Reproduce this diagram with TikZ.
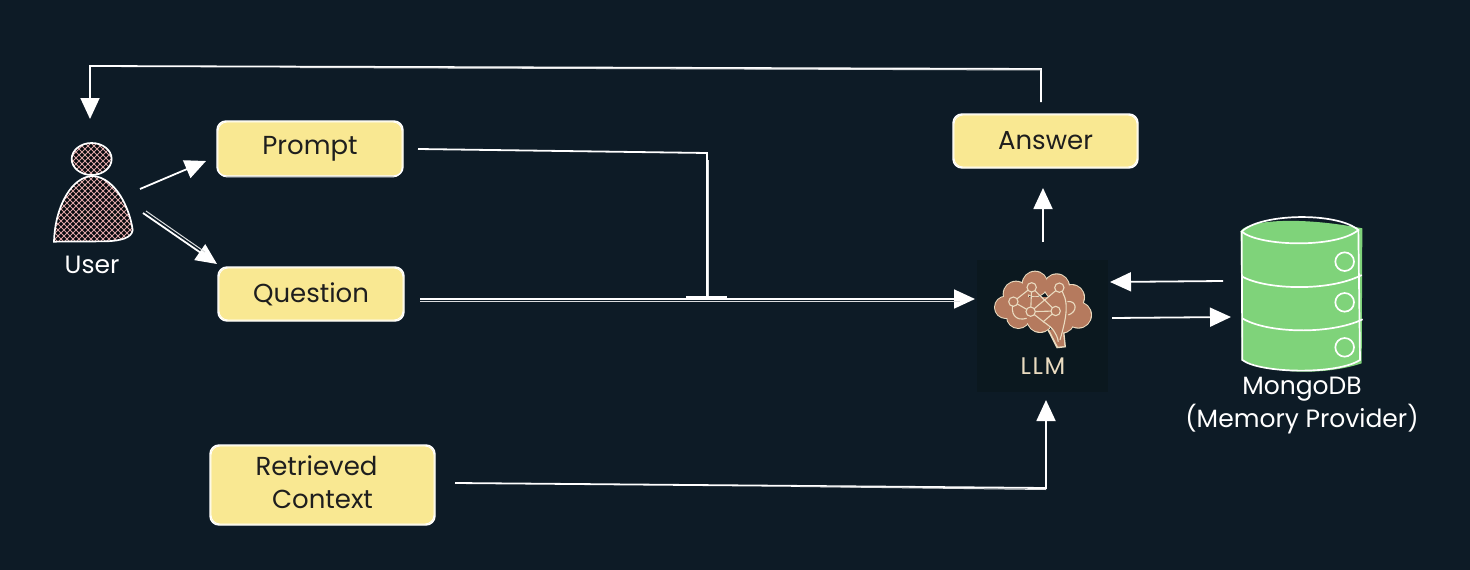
\documentclass[tikz,border=0pt]{standalone}
\usepackage{fontspec}
\setmainfont{Poppins}
\usetikzlibrary{arrows.meta}
\definecolor{bg}{HTML}{0D1B26}
\definecolor{llmbg}{HTML}{0B181F}
\definecolor{card}{HTML}{F9E892}
\definecolor{ink}{HTML}{1E1E1E}
\definecolor{dbgreen}{HTML}{7FD37A}
\definecolor{hatch}{HTML}{D9A3A3}
\definecolor{brainfill}{HTML}{B57A5E}
\definecolor{brainline}{HTML}{EADBC0}
\tikzset{
  x=1pt,y=-1pt,
  card/.style={draw=white,line width=1.4pt,fill=card,rounded corners=9pt,text=ink,align=center,
    font=\fontsize{26}{33}\selectfont,inner sep=0pt},
  ghost/.style={draw=white,line width=.8pt,rounded corners=9pt},
  wire/.style={draw=white,line width=1.8pt},
  wirethin/.style={draw=white!85!bg,line width=1pt},
  arrow/.style={wire,-{Triangle[length=21pt,width=19pt,fill=white]}},
  label/.style={text=white,align=center,font=\fontsize{25}{33}\selectfont,inner sep=0pt},
  sketch/.style={draw=white,line width=1.7pt},
  brainnet/.style={draw=brainline,line width=1.1pt},
}
\begin{document}
\begin{tikzpicture}
\useasboundingbox (0,0) rectangle (1470,570);
\fill[bg] (0,0) rectangle (1470,570);

% cards
\node[card,minimum width=186pt,minimum height=55pt] (prompt) at (310,148.5) {Prompt};
\node[card,minimum width=186pt,minimum height=54pt] (question) at (311,294) {Question};
\node[card,minimum width=225pt,minimum height=80pt] (context) at (322.5,485) {\raisebox{2pt}{\begin{tabular}{@{}c@{}}\hspace*{-12pt}Retrieved\\[0pt]Context\end{tabular}}};
\node[card,minimum width=185pt,minimum height=54pt] (answer) at (1045.5,141) {Answer};
\draw[ghost] (218,122) rectangle (402,177);
\draw[ghost] (219,268) rectangle (403,320);
\draw[ghost] (211,446) rectangle (434,524);
\draw[ghost] (954,115) rectangle (1137,167);

% user icon
\node[minimum width=85pt,minimum height=100pt,inner sep=0pt] (user) at (93,191) {};
\begin{scope}[shift={(30,50)},scale=1/3]
  \begin{scope}
    \clip (185,327) ellipse (60 and 48) (72,575) .. controls (75,470) and (125,378) .. (190,378) .. controls (260,385) and (300,480) .. (308,540) .. controls (305,565) and (270,572) .. (230,574) -- cycle;
    \fill[black!70!bg] (40,250) rectangle (340,600);
    \foreach \k in {-400,-382,...,1000}{
      \draw[hatch,line width=1pt] (\k,200) -- (\k+500,700);
      \draw[hatch,line width=1pt] (\k,700) -- (\k+500,200);
    }
  \end{scope}
  \draw[sketch] (185,327) ellipse (60 and 48);
  \draw[sketch] (72,575) .. controls (75,470) and (125,378) .. (190,378) .. controls (260,385) and (300,480) .. (308,540) .. controls (305,565) and (270,572) .. (230,574) -- cycle;
\end{scope}
\node[label] (userlabel) at (92,265) {User};

% llm
\node[fill=llmbg,minimum width=131pt,minimum height=132pt,inner sep=0pt] (llm) at (1042.5,326) {};
\begin{scope}[shift={(960,200)},scale=1/3]
  \foreach \a/\b/\r in {137/322/32,168/282/37,225/252/37,290/260/37,335/292/37,355/345/38,305/360/38,240/358/38,175/350/34}
    \fill[brainline] (\a,\b) circle (\r+3);
  \fill[brainline] (262,390) -- (290,445) -- (318,442) -- (312,385) -- cycle;
  \foreach \a/\b/\r in {137/322/32,168/282/37,225/252/37,290/260/37,335/292/37,355/345/38,305/360/38,240/358/38,175/350/34}
    \fill[brainfill] (\a,\b) circle (\r);
  \fill[brainfill] (268,390) -- (294,440) -- (313,438) -- (308,385) -- cycle;
  \fill[brainfill] (170,290) rectangle (320,370);
  \draw[brainnet] (160,305) -- (215,262) -- (212,335) -- (160,305);
  \draw[brainnet] (215,262) -- (287,333) -- (212,335) -- (298,263);
  \draw[brainnet] (298,263) .. controls (330,300) and (320,350) .. (300,420);
  \draw[brainnet] (212,335) -- (250,365) -- (287,333);
  \draw[brainnet] (160,305) .. controls (150,340) and (165,365) .. (200,355);
  \draw[brainnet] (250,365) .. controls (280,385) and (290,400) .. (295,425);
  \draw[brainnet] (322,305) .. controls (350,300) and (355,335) .. (325,345);
  \foreach \p in {(160,305),(215,262),(298,263),(212,335),(287,333)}
    \draw[brainnet,fill=brainfill] \p circle (14);
\end{scope}
\node[text=brainline,font=\fontsize{24}{28}\selectfont\addfontfeature{LetterSpace=7},inner sep=0pt] (llmlabel) at (1043,366) {LLM};

% database
\node[minimum width=121pt,minimum height=152pt,inner sep=0pt] (db) at (1301.5,294) {};
\begin{scope}[shift={(960,200)},scale=1/3]
  \fill[dbgreen] (842,95) .. controls (850,65) and (1000,45) .. (1207,85) -- (1205,490) .. controls (1100,525) and (950,525) .. (845,480) -- cycle;
  \draw[sketch] (845,95) .. controls (900,40) and (1130,35) .. (1195,90) .. controls (1130,145) and (900,140) .. (845,95) -- cycle;
  \draw[sketch] (845,95) -- (847,480) .. controls (900,520) and (1130,525) .. (1200,480) -- (1195,90);
  \draw[sketch] (847,230) .. controls (920,270) and (1110,275) .. (1205,225);
  \draw[sketch] (847,355) .. controls (920,400) and (1110,405) .. (1208,358);
  \draw[sketch] (1154,185) circle (28);
  \draw[sketch] (1154,307) circle (28);
  \draw[sketch] (1154,442) circle (28);
\end{scope}
\node[label] (dblabel) at (1302,405.5) {MongoDB\\(Memory Provider)};

% connectors
\coordinate (answerout) at (1041,102);
\coordinate (topright) at (1041,69);
\coordinate (topleft) at (90,66);
\coordinate (usertop) at (90,119);
\coordinate (userout1) at (140,189);
\coordinate (promptin) at (206,161);
\coordinate (userout2) at (143,213);
\coordinate (questionin) at (217,264);
\coordinate (promptout) at (418,149);
\coordinate (join) at (707,153);
\coordinate (tee) at (707,297);
\coordinate (questionout) at (420,299);
\coordinate (llmin) at (975,299);
\coordinate (contextout) at (455,483);
\coordinate (elbow) at (1046,488);
\coordinate (llmbottom) at (1046,400);
\coordinate (llmout) at (1043,242);
\coordinate (answerin) at (1043,188);
\coordinate (dbout) at (1223,281);
\coordinate (llmback) at (1110,282);
\coordinate (llmright) at (1112,318);
\coordinate (dbin) at (1231,317);

\draw[arrow] (answerout) -- (topright) -- (topleft) -- (usertop);
\draw[wirethin] (topright) ++(0,1) -- (300,67.5);
\draw[arrow] (userout1) -- (promptin);
\draw[wire] (promptout) -- (join) -- (tee);
\draw[wirethin] (708.5,160) -- (708.5,296);
\draw[wire,line width=2pt] (686,297) -- (727,297);
\draw[arrow] (questionout) -- (llmin);
\draw[wirethin] (420,301) -- (960,301);
\draw[arrow] (contextout) -- (elbow) -- (llmbottom);
\draw[wirethin] (800,486.5) -- (1046,489.5);
\draw[arrow] (llmout) -- (answerin);
\draw[arrow] (dbout) -- (llmback);
\draw[arrow] (llmright) -- (dbin);
\draw[arrow] (userout2) -- (questionin);
\draw[wirethin] (146,211) -- (205,252);
\end{tikzpicture}
\end{document}
